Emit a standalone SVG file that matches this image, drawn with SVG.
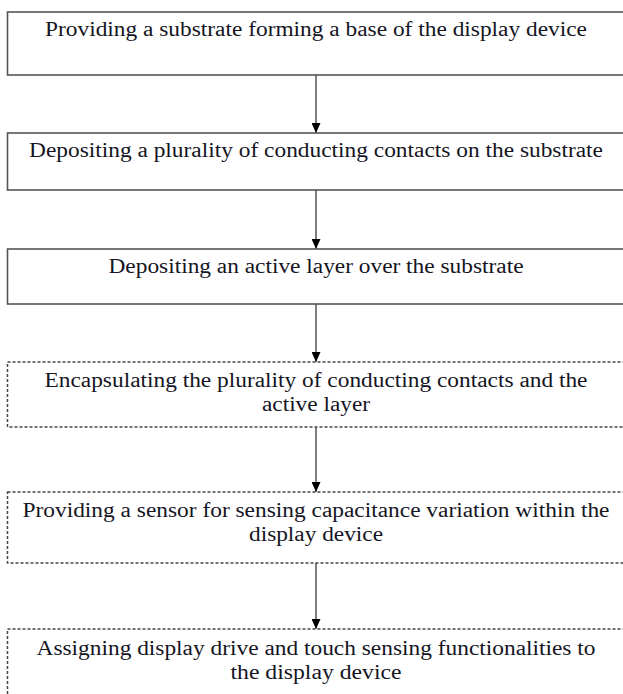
<svg xmlns="http://www.w3.org/2000/svg" width="623" height="694" viewBox="0 0 623 694">
<defs>
<marker id="ah" markerWidth="10" markerHeight="9" refX="10" refY="4.5" orient="auto" markerUnits="userSpaceOnUse">
<path d="M0,0 L10,4.5 L0,9 Z" fill="#000"/>
</marker>
<style>
.box{fill:#fff;stroke:#555;stroke-width:1.6}
.dbox{fill:#fff;stroke:#444;stroke-width:1.5;stroke-dasharray:3 2}
.t{font-family:"Liberation Serif","Times New Roman",serif;font-size:20px;fill:#15151f;text-anchor:middle}
.c{stroke:#555;stroke-width:1.5;fill:none}
</style>
</defs>
<rect width="623" height="694" fill="#fff"/>
<g id="connectors">
<line class="c" x1="316" y1="75" x2="316" y2="133" marker-end="url(#ah)"/>
<line class="c" x1="316" y1="190" x2="316" y2="249" marker-end="url(#ah)"/>
<line class="c" x1="316" y1="304" x2="316" y2="362" marker-end="url(#ah)"/>
<line class="c" x1="316" y1="427" x2="316" y2="492" marker-end="url(#ah)"/>
<line class="c" x1="316" y1="563" x2="316" y2="629" marker-end="url(#ah)"/>
</g>
<g id="n1">
<rect class="box" x="7.5" y="12" width="630" height="63"/>
<text class="t" x="316" y="36" textLength="542" lengthAdjust="spacingAndGlyphs">Providing a substrate forming a base of the display device</text>
</g>
<g id="n2">
<rect class="box" x="7.5" y="133" width="630" height="57"/>
<text class="t" x="316" y="157" textLength="574" lengthAdjust="spacingAndGlyphs">Depositing a plurality of conducting contacts on the substrate</text>
</g>
<g id="n3">
<rect class="box" x="7.5" y="249" width="630" height="55"/>
<text class="t" x="316" y="273" textLength="415" lengthAdjust="spacingAndGlyphs">Depositing an active layer over the substrate</text>
</g>
<g id="n4">
<rect class="dbox" x="7.5" y="362" width="630" height="65"/>
<text class="t" x="316" y="387" textLength="543" lengthAdjust="spacingAndGlyphs">Encapsulating the plurality of conducting contacts and the</text>
<text class="t" x="316" y="411" textLength="108" lengthAdjust="spacingAndGlyphs">active layer</text>
</g>
<g id="n5">
<rect class="dbox" x="7.5" y="492" width="630" height="71"/>
<text class="t" x="316" y="517" textLength="587" lengthAdjust="spacingAndGlyphs">Providing a sensor for sensing capacitance variation within the</text>
<text class="t" x="316" y="541" textLength="134" lengthAdjust="spacingAndGlyphs">display device</text>
</g>
<g id="n6">
<rect class="dbox" x="7.5" y="629" width="630" height="80"/>
<text class="t" x="316" y="655" textLength="559" lengthAdjust="spacingAndGlyphs">Assigning display drive and touch sensing functionalities to</text>
<text class="t" x="316" y="679" textLength="171" lengthAdjust="spacingAndGlyphs">the display device</text>
</g>
</svg>
